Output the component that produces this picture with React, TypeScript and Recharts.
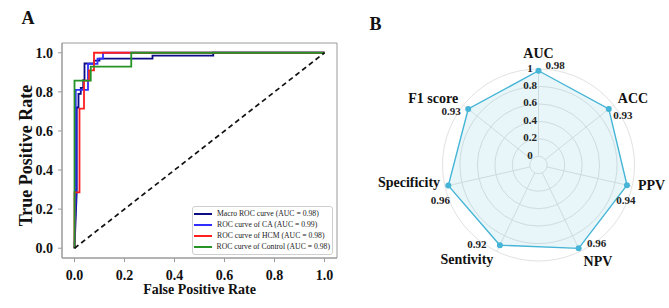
import React from 'react';
import {
  LineChart, Line, XAxis, YAxis, ReferenceArea, Legend,
  RadarChart, Radar, PolarGrid, PolarAngleAxis, PolarRadiusAxis,
} from 'recharts';

const FONT = '"Liberation Serif", "Times New Roman", serif';

// ---------- Panel A: ROC data ----------
const rocTicks = [0, 0.2, 0.4, 0.6, 0.8, 1.0];

const macroFpr = [0, 0.009, 0.009, 0.016, 0.016, 0.025, 0.025, 0.035, 0.035, 0.04, 0.04, 0.078, 0.078, 0.1, 0.1, 0.312, 0.312, 0.555, 0.555, 1];
const macroTpr = [0, 0.29, 0.72, 0.72, 0.79, 0.79, 0.82, 0.82, 0.86, 0.86, 0.945, 0.945, 0.96, 0.96, 0.97, 0.97, 0.985, 0.985, 1, 1];

const caFpr = [0, 0.005, 0.005, 0.054, 0.054, 0.092, 0.092, 0.114, 0.114, 1];
const caTpr = [0, 0.29, 0.81, 0.81, 0.943, 0.943, 0.97, 0.97, 1, 1];

const hcmFpr = [0, 0, 0.02, 0.02, 0.038, 0.038, 0.058, 0.058, 0.078, 0.078, 1];
const hcmTpr = [0, 0.286, 0.286, 0.714, 0.714, 0.857, 0.857, 0.91, 0.91, 1, 1];

const controlFpr = [0, 0, 0.065, 0.065, 0.227, 0.227, 1];
const controlTpr = [0, 0.857, 0.857, 0.929, 0.929, 1, 1];

const chanceFpr = [0, 1];
const chanceTpr = [0, 1];

const rocNames = [
  'Macro ROC curve (AUC = 0.98)',
  'ROC curve of CA (AUC = 0.99)',
  'ROC curve of HCM (AUC = 0.98)',
  'ROC curve of Control (AUC = 0.98)',
];
const rocColors = ['#0c0c86', '#2f2fff', '#ff1f1f', '#259325'];
const rocFprs = [macroFpr, caFpr, hcmFpr, controlFpr];
const rocTprs = [macroTpr, caTpr, hcmTpr, controlTpr];

const zip = (xs: number[], ys: number[]) => xs.map((x, i) => ({ x, y: ys[i] }));
const rocSeries = rocNames.map((name, i) => ({
  name,
  color: rocColors[i],
  data: zip(rocFprs[i], rocTprs[i]),
}));
const chanceData = zip(chanceFpr, chanceTpr);

// ---------- Panel B: radar data ----------
const radarMetrics = ['AUC', 'ACC', 'PPV', 'NPV', 'Sentivity', 'Specificity', 'F1 score'];
const radarValues = [0.98, 0.93, 0.94, 0.96, 0.92, 0.96, 0.93];
const radarTicks = [0, 0.2, 0.4, 0.6, 0.8, 1];
const radarData = radarMetrics.map((metric, i) => ({ metric, value: radarValues[i] }));
const radarColor = '#45b4d6';

// layout nudges (pixels) for text placement
const angleLabelNudge: [number, number][] = [[0, -8], [-2, -2], [-2, -3], [0, 2], [0, 0], [3, -6], [1, -2]];
const valueLabelOffset: [number, number][] = [[16.5, -6], [14, 6], [-1, 15], [18, -5], [-23, -1], [-8, 15], [-17, 2]];

const fmt1 = (v: number) => v.toFixed(1);

const LegendBox = () => (
  <div
    style={{
      border: '1px solid #cfcfcf', borderRadius: 3, background: '#fff',
      padding: '1px 2px 0 1px', fontFamily: FONT, fontSize: 7.7, lineHeight: '11.1px',
      boxSizing: 'border-box', width: '100%', height: '100%', color: '#222',
    }}
  >
    {rocSeries.map((s) => (
      <div key={s.name} style={{ display: 'flex', alignItems: 'center', whiteSpace: 'nowrap', height: 11.1 }}>
        <span style={{ display: 'inline-block', width: 18, height: 2, background: s.color, marginRight: 5 }} />
        <span>{s.name}</span>
      </div>
    ))}
  </div>
);

const RadiusTick = (props: any) => {
  const { x, y, payload } = props;
  const v = Number(payload.value);
  return (
    <text x={x - 8.5} y={y + 2.5} textAnchor="middle" fontFamily={FONT} fontWeight="bold" fontSize={11} fill="#222">
      {String(Number(v.toFixed(1)))}
    </text>
  );
};

const AngleTick = (props: any) => {
  const { x, y, payload, index, textAnchor } = props;
  const [dx, dy] = angleLabelNudge[index] || [0, 0];
  return (
    <text x={x + dx} y={y + dy} dy="0.35em" textAnchor={textAnchor} fontFamily={FONT} fontWeight="bold" fontSize={14} fill="#111">
      {payload.value}
    </text>
  );
};

const RadarDot = (props: any) => {
  const { cx, cy, index, payload } = props;
  const [dx, dy] = valueLabelOffset[index] || [0, 0];
  const val = payload && typeof payload.value === 'number' ? payload.value : radarValues[index];
  return (
    <g key={`dot-${index}`}>
      <circle cx={cx} cy={cy} r={3} fill={radarColor} stroke="none" />
      <text x={cx + dx} y={cy + dy} dy="0.35em" textAnchor="middle" fontFamily={FONT} fontWeight="bold" fontSize={11} fill="#222">
        {val.toFixed(2)}
      </text>
    </g>
  );
};

export default function App() {
  return (
    <div style={{ position: 'fixed', left: 0, top: 0, width: 669, height: 308, background: '#fff', overflow: 'hidden' }}>
      <div style={{ position: 'absolute', left: 0, top: 0 }}>
        <LineChart width={340} height={308} margin={{ top: 43, right: 3, bottom: 0, left: 0 }}>
          <XAxis
            type="number"
            dataKey="x"
            domain={[-0.05, 1.05]}
            ticks={rocTicks}
            tickFormatter={fmt1}
            allowDataOverflow
            height={50}
            stroke="#9a9a9a"
            tickSize={4}
            tickMargin={8}
            tick={{ fill: '#111', fontSize: 14, fontWeight: 'bold', fontFamily: FONT }}
            label={{ value: 'False Positive Rate', position: 'insideBottom', offset: 14, fill: '#111', fontSize: 14, fontWeight: 'bold', fontFamily: FONT }}
          />
          <YAxis
            type="number"
            dataKey="y"
            domain={[-0.05, 1.05]}
            ticks={rocTicks}
            tickFormatter={fmt1}
            allowDataOverflow
            width={62}
            stroke="#9a9a9a"
            tickSize={4}
            tickMargin={5}
            tick={{ fill: '#111', fontSize: 14, fontWeight: 'bold', fontFamily: FONT }}
            label={{ value: 'True Positive Rate', angle: -90, position: 'insideLeft', offset: 26, dy: 5, fill: '#111', fontSize: 18, fontWeight: 'bold', fontFamily: FONT, style: { textAnchor: 'middle' } }}
          />
          <ReferenceArea x1={-0.05} x2={1.05} y1={-0.05} y2={1.05} fill="none" stroke="#9a9a9a" strokeWidth={1} ifOverflow="visible" />
          {rocSeries.map((s) => (
            <Line
              key={s.name}
              data={s.data}
              dataKey="y"
              type="linear"
              stroke={s.color}
              strokeWidth={1.8}
              dot={false}
              activeDot={false}
              isAnimationActive={false}
              strokeLinejoin="miter"
            />
          ))}
          <Line
            data={chanceData}
            dataKey="y"
            type="linear"
            stroke="#111"
            strokeWidth={1.7}
            strokeDasharray="5 3.5"
            dot={false}
            activeDot={false}
            isAnimationActive={false}
            legendType="none"
          />
          <Legend
            layout="vertical"
            align="center"
            verticalAlign="middle"
            content={() => <LegendBox />}
            wrapperStyle={{ left: 192, top: 206, width: 141, height: 49, bottom: 'auto', right: 'auto' }}
          />
        </LineChart>
      </div>

      <div style={{ position: 'absolute', left: 340, top: 0 }}>
        <RadarChart width={329} height={308} cx={198.5} cy={165} innerRadius={8.7} outerRadius={96} data={radarData}>
          <PolarGrid gridType="circle" stroke="#e2e2e2" strokeWidth={1} />
          <PolarAngleAxis dataKey="metric" tick={<AngleTick />} tickLine={false} axisLine={false} />
          <PolarRadiusAxis
            angle={90}
            type="number"
            domain={[0, 1]}
            ticks={radarTicks as any}
            tickCount={6}
            axisLine={false}
            tickLine={false}
            tick={<RadiusTick />}
          />
          <Radar
            dataKey="value"
            stroke={radarColor}
            strokeWidth={1.4}
            fill={radarColor}
            fillOpacity={0.12}
            dot={RadarDot}
            isAnimationActive={false}
          />
        </RadarChart>
      </div>

      <svg width={669} height={308} style={{ position: 'absolute', left: 0, top: 0, pointerEvents: 'none' }}>
        <text x={21.5} y={24} fontFamily={FONT} fontWeight="bold" fontSize={18} fill="#111">A</text>
        <text x={369.5} y={30} fontFamily={FONT} fontWeight="bold" fontSize={18} fill="#111">B</text>
      </svg>
    </div>
  );
}
